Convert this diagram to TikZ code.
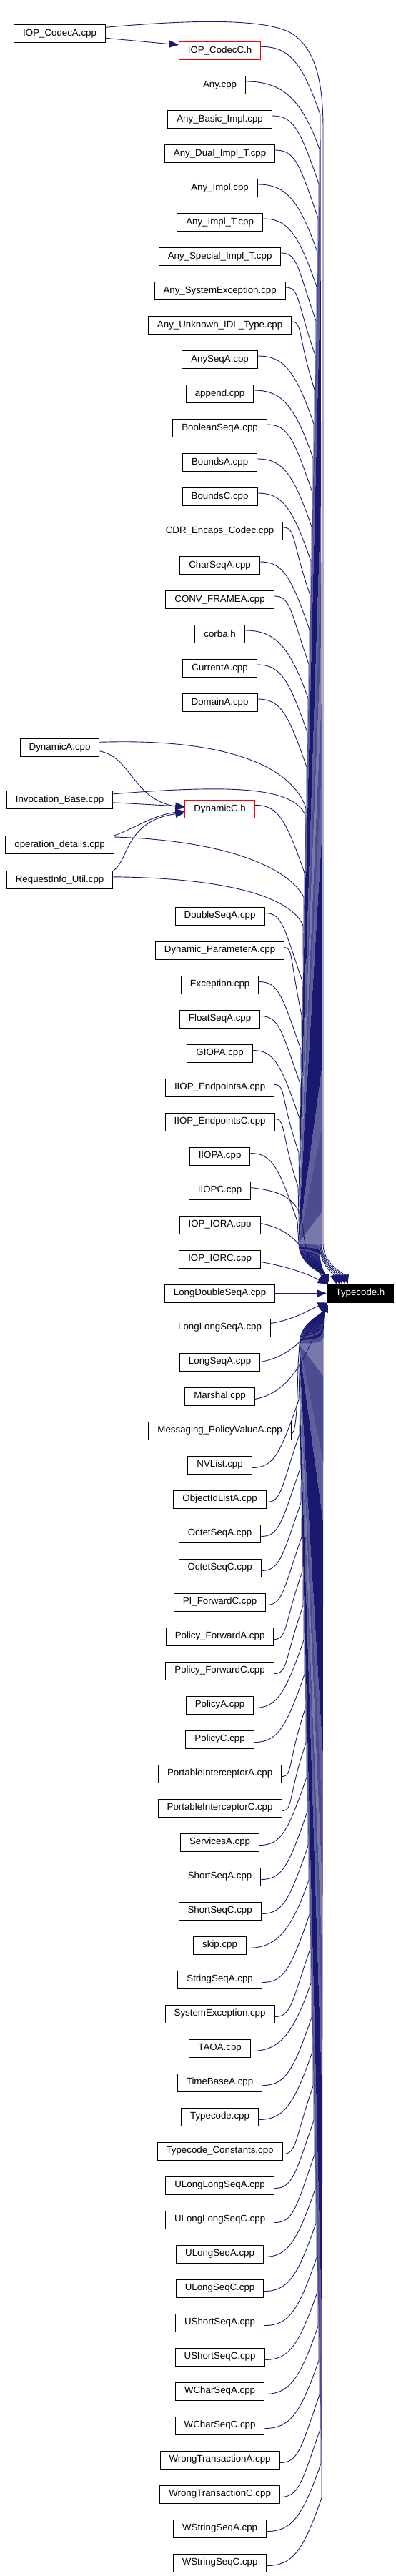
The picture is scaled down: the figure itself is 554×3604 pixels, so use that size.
\documentclass[tikz,border=0pt]{standalone}
\usepackage{fontspec}
\setmainfont{Liberation Sans}
\usetikzlibrary{arrows.meta,calc}
\definecolor{mblue}{RGB}{25,25,112}
% upper edge: start point, lane x, tip offset on top edge of T
\newcommand{\UE}[3]{%
 \draw[dep] let \p1=(#1) in (#1)
  .. controls ({\x1+0.45*(#2*1pt-\x1)}, \y1) and ({max(#2*1pt-28pt,\x1+8pt)}, {\y1-20pt}) .. ({#2*1pt-2pt}, {\y1-95pt})
  -- ({#2*1pt}, -1740pt)
  .. controls ({#2*1pt}, -1770pt) and ($(T.north west)+({#3-4},14)$) .. ($(T.north west)+(#3,0)$);}
% lower edge
\newcommand{\LE}[3]{%
 \draw[dep] let \p1=(#1) in (#1)
  .. controls ({\x1+0.45*(#2*1pt-\x1)}, \y1) and ({max(#2*1pt-28pt,\x1+8pt)}, {\y1+20pt}) .. ({#2*1pt-2pt}, {\y1+95pt})
  -- ({#2*1pt}, -1880pt)
  .. controls ({#2*1pt}, -1850pt) and ($(T.south west)+({#3-4},-14)$) .. ($(T.south west)+(#3,0)$);}
% upper edge with explicit first bend: start, c1, c2, bend end, lane
\newcommand{\PE}[5]{%
 \draw[dep] (#1) .. controls #2 and #3 .. #4 -- (#5,-1740)
  .. controls (#5,-1770) and ($(T.north west)+(-3,14)$) .. ($(T.north west)+(1,0)$);}
\begin{document}
\begin{tikzpicture}[x=1pt,y=1pt,
  nbox/.style={draw=black, line width=1pt, fill=white, minimum height=25pt, inner xsep=12.5pt, inner ysep=0pt, font=\fontsize{13.3pt}{16pt}\selectfont},
  rbox/.style={nbox, draw=red},
  tbox/.style={nbox, fill=black, text=white},
  dep/.style={draw=mblue, line width=0.9pt, -{Triangle[length=13pt,width=10pt]}}]
\fill[white] (0,0) rectangle (554,-3604);
\useasboundingbox (0,0) rectangle (554,-3604);
% left column
\node[nbox] (L0) at (83.6,-46.8) {IOP\_CodecA.cpp};
\node[nbox] (L1) at (83.6,-1045.8) {DynamicA.cpp};
\node[nbox] (L2) at (83.6,-1118.8) {Invocation\_Base.cpp};
\node[nbox] (L3) at (83.6,-1181.8) {operation\_details.cpp};
\node[nbox] (L4) at (83.6,-1230.8) {RequestInfo\_Util.cpp};
% middle column
\node[rbox] (C1) at (307.6,-70.8) {IOP\_CodecC.h};
\node[rbox] (DC) at (307.6,-1132.3) {DynamicC.h};
\foreach \t [count=\i] in {Any.cpp, Any\_Basic\_Impl.cpp, Any\_Dual\_Impl\_T.cpp, Any\_Impl.cpp, Any\_Impl\_T.cpp, Any\_Special\_Impl\_T.cpp, Any\_SystemException.cpp, Any\_Unknown\_IDL\_Type.cpp, AnySeqA.cpp, append.cpp, BooleanSeqA.cpp, BoundsA.cpp, BoundsC.cpp, CDR\_Encaps\_Codec.cpp, CharSeqA.cpp, CONV\_FRAMEA.cpp, corba.h, CurrentA.cpp, DomainA.cpp}
  \node[nbox] (u\i) at (307.6,{-71-48*\i}) {\t};
\foreach \t [count=\i from 0] in {DoubleSeqA.cpp, Dynamic\_ParameterA.cpp, Exception.cpp, FloatSeqA.cpp, GIOPA.cpp, IIOP\_EndpointsA.cpp, IIOP\_EndpointsC.cpp, IIOPA.cpp, IIOPC.cpp, IOP\_IORA.cpp, IOP\_IORC.cpp, LongDoubleSeqA.cpp, LongLongSeqA.cpp, LongSeqA.cpp, Marshal.cpp, Messaging\_PolicyValueA.cpp, NVList.cpp, ObjectIdListA.cpp, OctetSeqA.cpp, OctetSeqC.cpp, PI\_ForwardC.cpp, Policy\_ForwardA.cpp, Policy\_ForwardC.cpp, PolicyA.cpp, PolicyC.cpp, PortableInterceptorA.cpp, PortableInterceptorC.cpp, ServicesA.cpp, ShortSeqA.cpp, ShortSeqC.cpp, skip.cpp, StringSeqA.cpp, SystemException.cpp, TAOA.cpp, TimeBaseA.cpp, Typecode.cpp, Typecode\_Constants.cpp, ULongLongSeqA.cpp, ULongLongSeqC.cpp, ULongSeqA.cpp, ULongSeqC.cpp, UShortSeqA.cpp, UShortSeqC.cpp, WCharSeqA.cpp, WCharSeqC.cpp, WrongTransactionA.cpp, WrongTransactionC.cpp, WStringSeqA.cpp, WStringSeqC.cpp}
  \node[nbox] (d\i) at (307.6,{-1281.5-48*\i}) {\t};
% target
\node[tbox] (T) at (504,-1809.5) {Typecode.h};

% IOP_CodecA edges
\draw[dep] ($(L0.east)+(0,-6.5)$) -- ($(C1.west)+(0,8)$);
\draw[dep] ($(L0.east)+(0,8.5)$) .. controls +(110,10) and (365,-25) .. (405,-45)
  .. controls (440,-65) and (452,-110) .. (452,-180) -- (452,-1740)
  .. controls (452,-1770) and ($(T.north west)+(26,14)$) .. ($(T.north west)+(30,0)$);
\UE{$(C1.east)+(0,5.5)$}{450}{26}
\foreach \i in {1,...,19}{%
  \pgfmathsetmacro\ln{450-\i}\pgfmathsetmacro\tp{\i<4 ? 26-4*\i : 2}%
  \UE{$(u\i.east)+(0,5)$}{\ln}{\tp}}
% Dynamic group
\draw[dep] ($(L1.east)+(0,-5)$) .. controls (185,-1060) and (185,-1118) .. ($(DC.west)+(0,2)$);
\PE{$(L1.east)+(0,7.5)$}{(300,-1033)}{(405,-1065)}{(428,-1130)}{430}
\draw[dep] ($(L2.east)+(0,-4)$) -- ($(DC.west)+(0,4)$);
\PE{$(L2.east)+(0,8)$}{(330,-1097)}{(410,-1102)}{(427,-1140)}{429}
\draw[dep] ($(L3.east)+(0,12.8)$) .. controls (190,-1158) and (215,-1140) .. ($(DC.west)+(0,-2.7)$);
\PE{$(L3.east)+(0,10.8)$}{(300,-1175)}{(400,-1208)}{(425,-1255)}{427}
\draw[dep] ($(L4.east)+(0,12.5)$) .. controls (180,-1205) and (175,-1148) .. ($(DC.west)+(0,-4.7)$);
\PE{$(L4.east)+(0,4)$}{(300,-1228)}{(405,-1250)}{(424,-1295)}{426}
\UE{$(DC.east)+(0,6)$}{428}{1}
% lower-middle group above T
\foreach \i in {0,...,7}{%
  \pgfmathsetmacro\ln{425-\i}%
  \UE{$(d\i.east)+(0,4)$}{\ln}{1}}
\draw[dep] ($(d8.east)+(0,4)$) .. controls +(50,-6) and (420,-1680) .. (424,-1720)
  .. controls (428,-1770) and ($(T.north west)+(-4,14)$) .. ($(T.north west)+(1,0)$);
\draw[dep] ($(d9.east)+(0,2)$) .. controls +(50,-10) and ($(T.north west)+(-30,45)$) .. ($(T.north west)+(1,0)$);
\draw[dep] ($(d10.east)+(0,-4)$) .. controls +(45,-8) and ($(T.north west)+(-22,12)$) .. ($(T.north west)+(1,0)$);
\draw[dep] (d11.east) -- (T.west);
% below T
\draw[dep] ($(d12.east)+(0,6)$) .. controls +(35,6) and ($(T.south west)+(-25,-10)$) .. ($(T.south west)+(1,0)$);
\draw[dep] (d13.east) .. controls +(45,8) and ($(T.south west)+(-25,-45)$) .. ($(T.south west)+(1,0)$);
\draw[dep] ($(d14.east)+(0,-4)$) .. controls +(50,10) and ($(T.south west)+(-30,-80)$) .. ($(T.south west)+(1,0)$);
\foreach \i in {15,...,48}{%
  \pgfmathsetmacro\ln{404+\i}%
  \LE{$(d\i.east)+(0,-4)$}{\ln}{1}}
\end{tikzpicture}
\end{document}
